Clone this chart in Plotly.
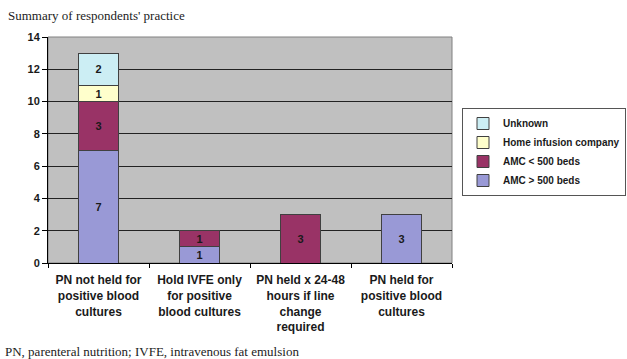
import plotly.graph_objects as go

categories = [
    "PN not held for<br>positive blood<br>cultures",
    "Hold IVFE only<br>for positive<br>blood cultures",
    "PN held x 24-48<br>hours if line<br>change<br>required",
    "PN held for<br>positive blood<br>cultures",
]
amc_large = [7, 1, 0, 3]
amc_small = [3, 1, 3, 0]
home_infusion = [1, 0, 0, 0]
unknown = [2, 0, 0, 0]
y_ticks = [0, 2, 4, 6, 8, 10, 12, 14]

series = [
    ("AMC > 500 beds", amc_large, "#9999d6"),
    ("AMC < 500 beds", amc_small, "#993366"),
    ("Home infusion company", home_infusion, "#ffffcc"),
    ("Unknown", unknown, "#cceef4"),
]

sans = "Liberation Sans"
serif = "Liberation Serif"

W, H = 627, 359

fig = go.Figure()
for name, vals, color in series:
    fig.add_trace(go.Bar(
        x=categories,
        y=vals,
        name=name,
        marker=dict(color=color, line=dict(color="#404040", width=1)),
        text=[str(v) if v else "" for v in vals],
        textposition="inside",
        textangle=0,
        constraintext="none",
        insidetextanchor="middle",
        textfont=dict(family=sans, size=11, color="#1a1a1a", weight="bold"),
        width=0.4,
    ))

fig.update_layout(
    barmode="stack",
    width=W,
    height=H,
    margin=dict(l=48, r=175, t=37, b=96, autoexpand=False),
    paper_bgcolor="white",
    plot_bgcolor="#c0c0c0",
    showlegend=True,
    legend=dict(
        traceorder="reversed",
        xref="container", yref="container",
        x=462 / W, y=(H - 108) / H, xanchor="left", yanchor="top",
        bgcolor="white",
        bordercolor="#555555", borderwidth=1,
        font=dict(family=sans, size=10, color="#1a1a1a", weight="bold"),
        itemwidth=30,
        tracegroupgap=0,
    ),
    uniformtext=dict(minsize=8, mode="show"),
    annotations=[
        dict(text="Summary of respondents' practice", xref="paper", yref="paper",
             x=-42 / 404, y=1 + 21 / 226, xanchor="left", yanchor="middle",
             showarrow=False,
             font=dict(family=serif, size=13, color="#222222")),
        dict(text="PN, parenteral nutrition; IVFE, intravenous fat emulsion",
             xref="paper", yref="paper",
             x=-45 / 404, y=-88 / 226, xanchor="left", yanchor="middle",
             showarrow=False,
             font=dict(family=serif, size=13, color="#222222")),
    ],
    shapes=[
        dict(type="rect", xref="paper", yref="paper", x0=0, y0=0, x1=1, y1=1,
             line=dict(color="#808080", width=1), layer="below"),
    ],
)

fig.update_xaxes(
    type="category",
    automargin=False,
    tickangle=0,
    showline=True, linecolor="#000000", linewidth=1,
    ticks="outside", tickson="boundaries", ticklen=4, tickcolor="#000000",
    ticklabelstandoff=6,
    tickfont=dict(family=sans, size=12, color="#1a1a1a", weight="bold"),
    showgrid=False,
)
fig.update_yaxes(
    range=[0, 14],
    automargin=False,
    tickvals=y_ticks,
    showline=True, linecolor="#000000", linewidth=1,
    ticks="outside", ticklen=5, tickcolor="#000000",
    tickfont=dict(family=sans, size=11, color="#1a1a1a", weight="bold"),
    showgrid=True, gridcolor="#222222", gridwidth=1,
    zeroline=False,
)

fig.write_html("out.html")
